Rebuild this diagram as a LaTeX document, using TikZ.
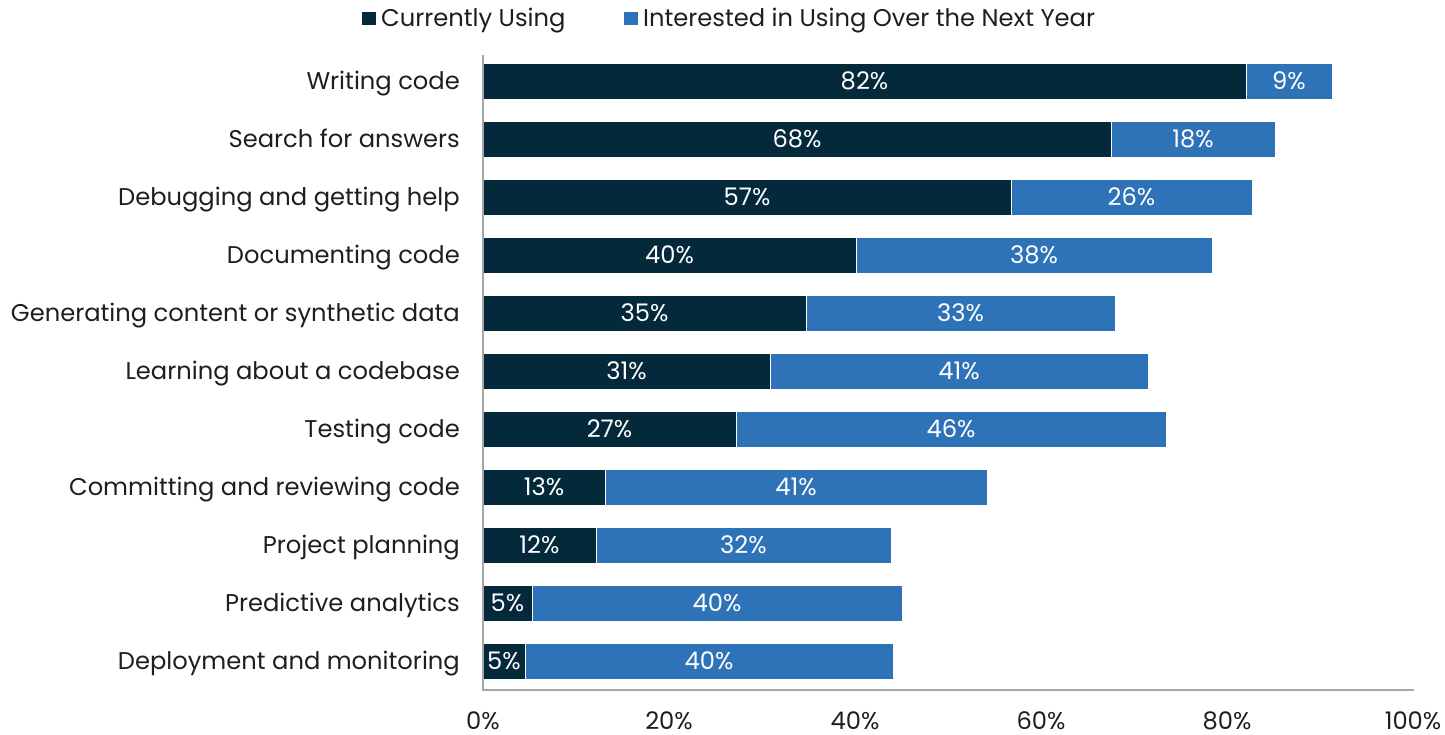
\documentclass[tikz,border=0pt]{standalone}
\usepackage{fontspec}
\setmainfont{Poppins}
\usetikzlibrary{positioning}
\definecolor{curcol}{HTML}{03293A}
\definecolor{intcol}{HTML}{2E72B8}
\definecolor{axiscol}{HTML}{A6A6A6}
\definecolor{txtcol}{HTML}{1E1E1E}
\tikzset{
every node/.style={inner sep=0pt, text height=16.9pt, text depth=0pt, font=\fontsize{24.2}{28}\selectfont},
cat/.style={anchor=east, text=txtcol},
val/.style={anchor=center, text=white},
tick/.style={anchor=center, text=txtcol},
key/.style={minimum size=13.5pt, text height=, text depth=},
curbar/.style={fill=curcol},
intbar/.style={fill=intcol},
axis/.style={draw=axiscol, line width=1.4pt},
}

\begin{document}
\begin{tikzpicture}[x=1pt, y=-1pt]
    \useasboundingbox (0,0) rectangle (1445,735);

    %legend
    \node[key, fill=curcol] (keycur) at (369,18.5) {};
    \node[tick, anchor=west, right=5pt of keycur] (keycurtext) {Currently Using};
    \node[key, fill=intcol] (keyint) at (631,18.5) {};
    \node[tick, anchor=west, right=5pt of keyint] (keyinttext) {Interested in Using Over the Next Year};

    %bars
    \foreach \lab/\da/\la/\dv/\lv [count=\i, evaluate=\i as \y using 81.5+58*(\i-1)] in {
        Writing code/1246/1332/82/9,
        Search for answers/1111/1275/68/18,
        Debugging and getting help/1011/1252/57/26,
        Documenting code/856/1212/40/38,
        Generating content or synthetic data/806/1115/35/33,
        Learning about a codebase/770/1148/31/41,
        Testing code/736/1166/27/46,
        Committing and reviewing code/605/987/13/41,
        Project planning/596/891/12/32,
        Predictive analytics/532/902/5/40,
        Deployment and monitoring/525/893/5/40}{
        \fill[curbar] (483,\y-18) rectangle (\da,\y+18);
        \fill[intbar] (\da,\y-18) rectangle (\la,\y+18);
        \draw[white, line width=0.5pt] (483,\y-18) rectangle (\la,\y+18);
        \draw[white, line width=0.5pt] (\da,\y-18) -- (\da,\y+18);
        \node[cat] (cat\i) at (460,\y) {\lab};
        \node[val] (cur\i) at ({(483+\da)/2},\y) {\dv\%};
        \node[val] (int\i) at ({(\da+\la)/2},\y) {\lv\%};
    }

    %axes
    \coordinate (top) at (483,55);
    \coordinate (origin) at (483,690);
    \coordinate (right) at (1414,690);
    \draw[axis] (top) -- (origin) -- (right);

    %ticks
    \foreach \p in {0,20,...,100}
        \node[tick] (tick\p) at ({483+9.3*\p},721) {\p\%};
\end{tikzpicture}
\end{document}
